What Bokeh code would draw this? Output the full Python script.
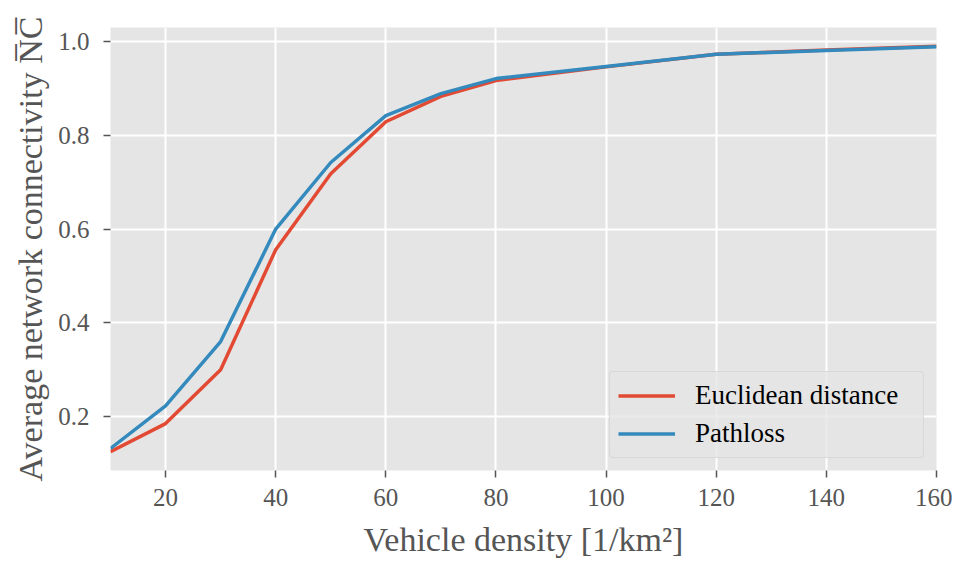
from bokeh.plotting import figure
from bokeh.models import Range1d, FixedTicker, Legend, LegendItem, CustomJSTickFormatter
from bokeh.embed import file_html
from bokeh.resources import INLINE

density = [10, 20, 30, 40, 50, 60, 70, 80, 100, 120, 140, 160]
euclidean = [0.125, 0.185, 0.300, 0.556, 0.718, 0.829, 0.883, 0.917, 0.946, 0.973, 0.982, 0.990]
pathloss = [0.132, 0.223, 0.360, 0.600, 0.742, 0.842, 0.889, 0.921, 0.947, 0.973, 0.981, 0.989]
x_ticks = [20, 40, 60, 80, 100, 120, 140, 160]
y_ticks = [0.2, 0.4, 0.6, 0.8, 1.0]

FONT = "Liberation Serif"

p = figure(frame_width=826, frame_height=443, output_backend="svg", toolbar_location=None,
           x_range=Range1d(10, 160), y_range=Range1d(0.085, 1.03),
           min_border_left=110, min_border_right=16, min_border_top=27, min_border_bottom=80)
p.background_fill_color = "#E5E5E5"
p.border_fill_color = "white"
p.outline_line_color = None

for ax in (p.xaxis[0], p.yaxis[0]):
    ax.axis_line_color = None
    ax.major_tick_line_color = "#555555"
    ax.major_tick_line_width = 1.5
    ax.major_tick_out = 7
    ax.major_tick_in = 0
    ax.minor_tick_line_color = None
    ax.major_label_text_font = FONT
    ax.major_label_text_font_size = "25px"
    ax.major_label_text_color = "#555555"
    ax.axis_label_text_font = FONT
    ax.axis_label_text_font_size = "34px"
    ax.axis_label_text_color = "#555555"
    ax.axis_label_text_font_style = "normal"

p.xaxis.ticker = FixedTicker(ticks=x_ticks)
p.yaxis.ticker = FixedTicker(ticks=y_ticks)
p.yaxis.formatter = CustomJSTickFormatter(code="return tick.toFixed(1);")
p.xaxis.axis_label = "Vehicle density [1/km\u00b2]"
p.yaxis.axis_label = "Average network connectivity N\u0305C\u0305"
p.xaxis.major_label_standoff = 11
p.yaxis.major_label_standoff = 14
p.xaxis.axis_label_standoff = 12
p.yaxis.axis_label_standoff = 6

p.xgrid.ticker = FixedTicker(ticks=x_ticks)
p.ygrid.ticker = FixedTicker(ticks=y_ticks)
p.grid.grid_line_color = "white"
p.grid.grid_line_width = 2

r1 = p.line(density, euclidean, line_color="#E24A33", line_width=3.5)
r2 = p.line(density, pathloss, line_color="#348ABD", line_width=3.5)

legend = Legend(items=[LegendItem(label="Euclidean distance", renderers=[r1]),
                       LegendItem(label="Pathloss", renderers=[r2])],
                location="bottom_right")
legend.label_text_font = FONT
legend.label_text_font_size = "27px"
legend.label_text_color = "black"
legend.background_fill_color = "#E5E5E5"
legend.background_fill_alpha = 0.8
legend.border_line_color = "#cccccc"
legend.border_line_width = 1
legend.border_radius = 4
legend.glyph_width = 57
legend.glyph_height = 29
legend.label_height = 29
legend.label_width = 220
legend.label_standoff = 20
legend.spacing = 7
legend.padding = 8
legend.margin = 12
p.add_layout(legend)

open("out.html", "w").write(file_html(p, INLINE))
